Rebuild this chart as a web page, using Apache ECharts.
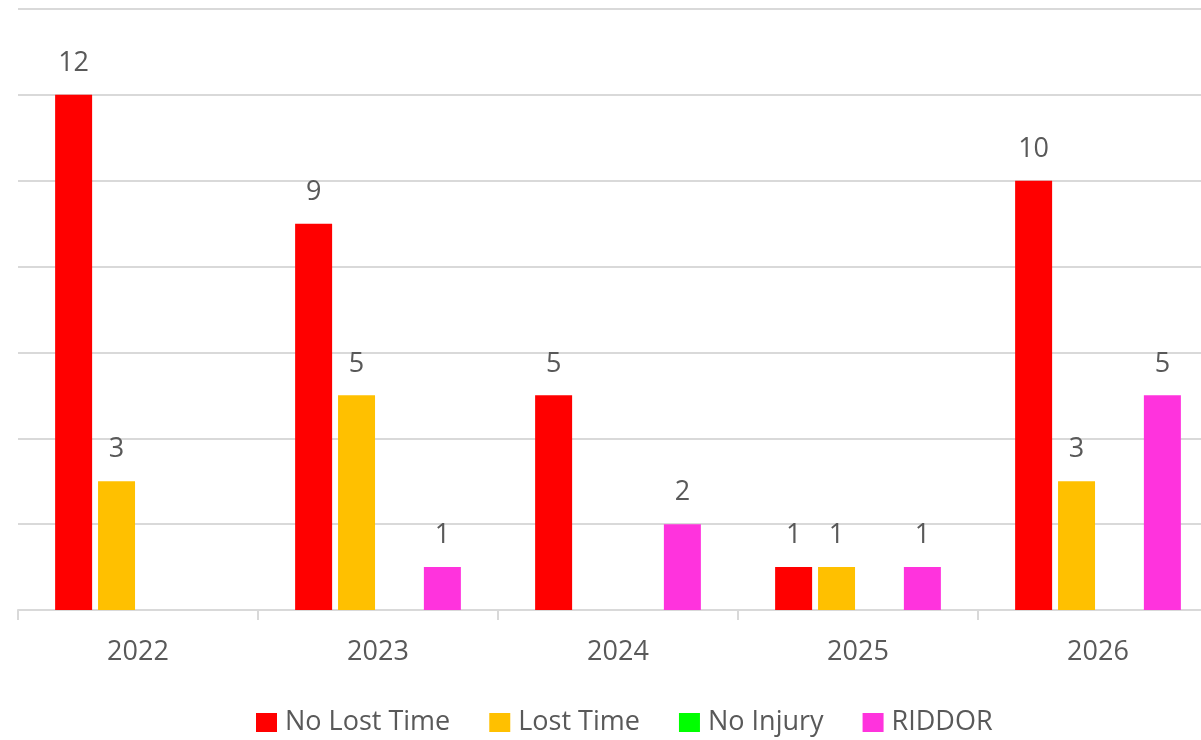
<!DOCTYPE html>
<html>
<head>
<meta charset="utf-8">
<script src="https://cdn.jsdelivr.net/npm/echarts@6/dist/echarts.min.js"></script>
<style>
  html, body { margin: 0; padding: 0; background: #fff; overflow: hidden; }
  /* plot area runs past the right edge in the source, so the canvas is a bit wider than the window */
  #chart { width: 1218px; height: 740px; }
</style>
</head>
<body>
<div id="chart"></div>
<script>
const years = ['2022', '2023', '2024', '2025', '2026']
const noLostTime = [12, 9, 5, 1, 10]
const lostTime = [3, 5, 0, 1, 3]
const noInjury = [0, 0, 0, 0, 0]
const riddor = [0, 1, 2, 1, 5]

const textColor = '#595959'
const gridColor = '#d9d9d9'
const font = 'Open Sans'

const chart = echarts.init(document.getElementById('chart'))

// hide zero labels
const labelCfg = {
  show: true,
  position: 'top',
  distance: 18,
  color: textColor,
  fontFamily: font,
  fontSize: 27,
  formatter: p => (p.value ? p.value : ''),
}

const makeSeries = (name, data, color) => ({
  name,
  type: 'bar',
  data,
  barWidth: 37,
  barGap: '16%',
  itemStyle: { color },
  label: labelCfg,
})

chart.setOption({
  animation: false,
  grid: { left: 18, right: 0, top: 9, bottom: 130 },
  legend: {
    top: 709,
    left: 256,
    padding: 0,
    icon: 'rect',
    itemWidth: 21,
    itemHeight: 19,
    itemGap: 39,
    textStyle: { color: textColor, fontFamily: font, fontSize: 27, padding: [0, 0, 0, 3] },
    data: ['No Lost Time', 'Lost Time', 'No Injury', 'RIDDOR'],
  },
  xAxis: {
    type: 'category',
    data: years,
    axisLine: { lineStyle: { color: gridColor, width: 2 } },
    axisTick: { show: true, length: 10, lineStyle: { color: gridColor, width: 2 } },
    axisLabel: { color: textColor, fontFamily: font, fontSize: 27, margin: 29 },
  },
  yAxis: {
    type: 'value',
    min: 0,
    max: 14,
    interval: 2,
    axisLabel: { show: false },
    axisLine: { show: false },
    axisTick: { show: false },
    splitLine: { lineStyle: { color: gridColor, width: 2 } },
  },
  series: [
    makeSeries('No Lost Time', noLostTime, '#ff0000'),
    makeSeries('Lost Time', lostTime, '#ffc000'),
    makeSeries('No Injury', noInjury, '#00ff00'),
    makeSeries('RIDDOR', riddor, '#ff33dd'),
  ],
})
</script>
</body>
</html>
